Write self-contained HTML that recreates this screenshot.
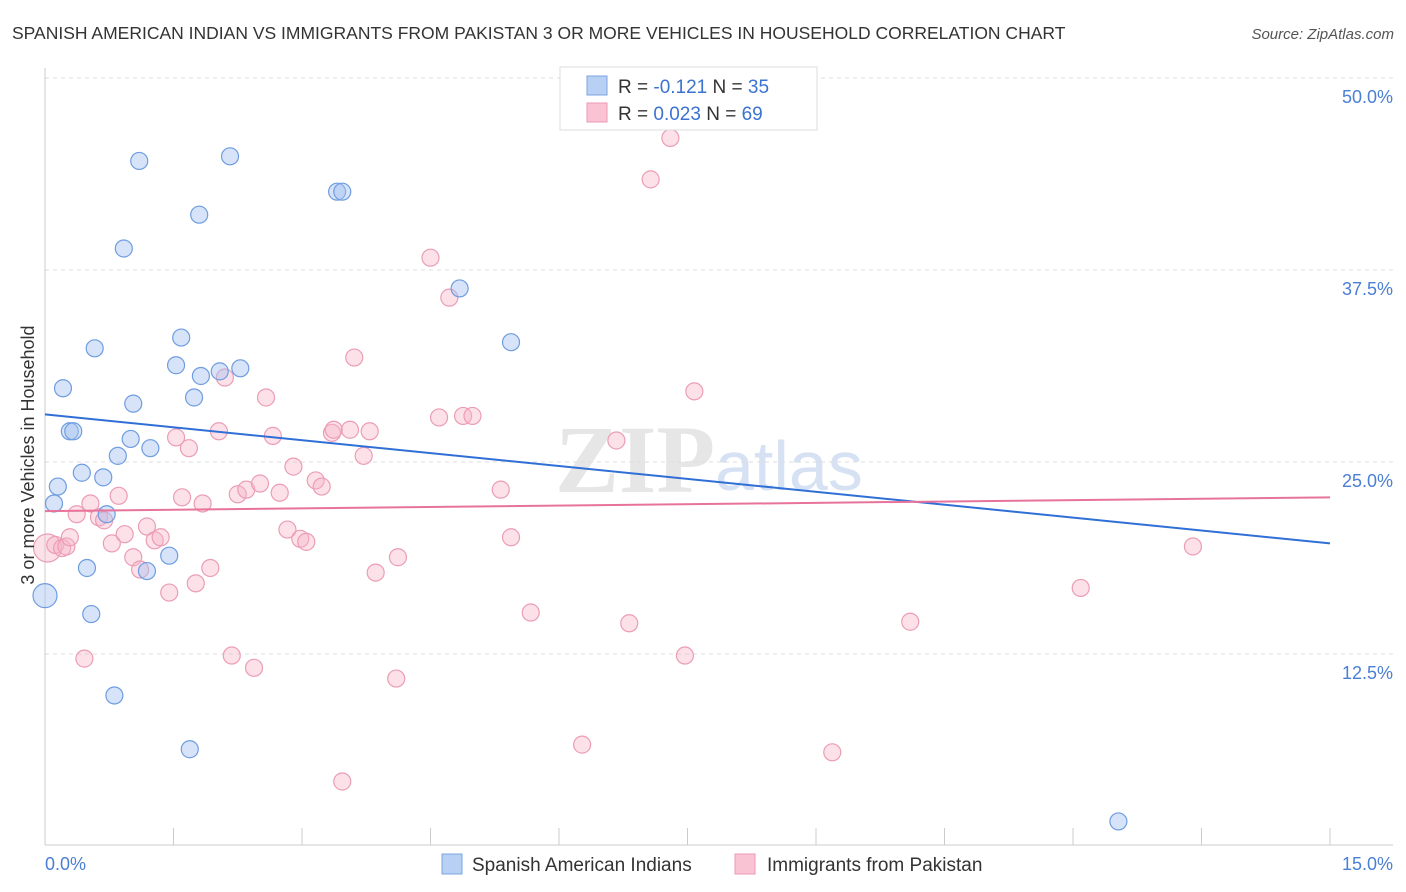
<!DOCTYPE html>
<html><head><meta charset="utf-8"><style>
body{margin:0;background:#fff;font-family:"Liberation Sans",sans-serif;}
svg{display:block}
</style></head><body>
<svg width="1406" height="892" viewBox="0 0 1406 892" xmlns="http://www.w3.org/2000/svg">
<text x="12" y="39" font-size="17.5" fill="#333">SPANISH AMERICAN INDIAN VS IMMIGRANTS FROM PAKISTAN 3 OR MORE VEHICLES IN HOUSEHOLD CORRELATION CHART</text>
<text x="1394" y="39" font-size="15" fill="#555" font-style="italic" text-anchor="end">Source: ZipAtlas.com</text>
<g>
<text x="555" y="492" font-family="Liberation Serif,serif" font-size="96" fill="#e6e6e6" font-weight="bold">ZIP</text>
<text x="715" y="490" font-size="70" fill="#d6e2f3">atlas</text>
</g>
<g id="grid"></g>
<g id="axes"></g>
<g id="pts"></g>
<g id="trends"></g>
<text transform="translate(34,455) rotate(-90)" font-size="18" fill="#333" text-anchor="middle">3 or more Vehicles in Household</text>
<g>
<rect x="560" y="67" width="257" height="63" fill="#fff" stroke="#ddd"/>
<rect x="587" y="76" width="20" height="19" fill="#b8d0f4" stroke="#7aa4e0"/>
<rect x="587" y="103" width="20" height="19" fill="#f9c3d3" stroke="#ea9ab4"/>
<text x="618" y="93" font-size="19" fill="#333">R = <tspan fill="#3a73d0">-0.121</tspan>   N = <tspan fill="#3a73d0">35</tspan></text>
<text x="618" y="120" font-size="19" fill="#333">R = <tspan fill="#3a73d0">0.023</tspan>    N = <tspan fill="#3a73d0">69</tspan></text>
</g>
<g>
<rect x="442" y="854" width="20" height="20" fill="#b8d0f4" stroke="#7aa4e0"/>
<text x="472" y="871" font-size="19" fill="#333">Spanish American Indians</text>
<rect x="735" y="854" width="20" height="20" fill="#f9c3d3" stroke="#ea9ab4"/>
<text x="767" y="871" font-size="19" fill="#333">Immigrants from Pakistan</text>
</g>
<script>
const yTicks=[12.5,25,37.5,50];
const yTickLabels=["12.5%","25.0%","37.5%","50.0%"];
const xTickCount=10;
const blueX=[0,0.105,0.15,0.21,0.29,0.33,0.43,0.49,0.54,0.58,0.68,0.72,0.81,0.85,0.92,1.0,1.03,1.10,1.19,1.23,1.45,1.53,1.59,1.69,1.74,1.80,1.82,2.04,2.16,2.28,3.41,3.47,4.84,5.44,12.53];
const blueY=[16.3,22.3,23.4,29.8,27.0,27.0,24.3,18.1,15.1,32.4,24.0,21.6,9.8,25.4,38.9,26.5,28.8,44.6,17.9,25.9,18.9,31.3,33.1,6.3,29.2,41.1,30.6,30.9,44.9,31.1,42.6,42.6,36.3,32.8,1.6];
const pinkX=[0.03,0.12,0.20,0.25,0.29,0.37,0.46,0.53,0.63,0.69,0.78,0.86,0.93,1.03,1.11,1.19,1.28,1.35,1.45,1.53,1.60,1.68,1.76,1.84,1.93,2.03,2.10,2.18,2.25,2.35,2.44,2.51,2.58,2.66,2.74,2.83,2.90,2.98,3.05,3.16,3.23,3.35,3.37,3.47,3.56,3.61,3.72,3.79,3.86,4.10,4.12,4.50,4.60,4.72,4.88,4.99,5.32,5.44,5.67,6.27,6.67,6.82,7.07,7.30,7.47,7.58,9.19,10.10,12.09,13.40];
const pinkY=[19.4,19.6,19.4,19.5,20.1,21.6,12.2,22.3,21.4,21.2,19.7,22.8,20.3,18.8,18.0,20.8,19.9,20.1,16.5,26.6,22.7,25.9,17.1,22.3,18.1,27.0,30.5,12.4,22.9,23.2,11.6,23.6,29.2,26.7,23.0,20.6,24.7,20.0,19.8,23.8,23.4,26.9,27.1,4.2,27.1,31.8,25.4,27.0,17.8,10.9,18.8,38.3,27.9,35.7,28.0,28.0,23.2,20.1,15.2,6.6,26.4,14.5,43.4,46.1,12.4,29.6,6.1,14.6,16.8,19.5];
const blueTrend=[28.1,19.7];
const pinkTrend=[21.8,22.7];
const NS="http://www.w3.org/2000/svg";
const X0=45,X1=1330,Y0=846;
function xs(v){return X0+v/15*(X1-X0);}
function ys(v){return Y0-v/12.5*192;}
function mk(t,a,p){const e=document.createElementNS(NS,t);for(const k in a)e.setAttribute(k,a[k]);p.appendChild(e);return e;}
const grid=document.getElementById('grid'),axes=document.getElementById('axes');
yTicks.forEach((t,i)=>{
  const l=mk('line',{x1:45,x2:1393,y1:ys(t),y2:ys(t),stroke:'#ddd','stroke-dasharray':'4,4'},grid);
  
  
  const tx=mk('text',{x:1393,y:ys(t)+25,'font-size':18,fill:'#4a7fd4','text-anchor':'end'},axes);
  tx.textContent=yTickLabels[i];
  
  
});
mk('line',{x1:45,x2:45,y1:68,y2:845,stroke:'#ccc'},axes);
mk('line',{x1:45,x2:1393,y1:845,y2:845,stroke:'#ccc'},axes);
for(let i=0;i<=xTickCount;i++){
  const x=xs(i*15/xTickCount);
  const t=mk('line',{x1:x,x2:x,y1:828,y2:845,stroke:'#ccc'},axes);
  
  
}
const xl0=mk('text',{x:45,y:870,'font-size':18,fill:'#4a7fd4'},axes);xl0.textContent='0.0%';


const xl1=mk('text',{x:1393,y:870,'font-size':18,fill:'#4a7fd4','text-anchor':'end'},axes);xl1.textContent='15.0%';


const pts=document.getElementById('pts');
pinkX.forEach((x,i)=>{
  const c=mk('circle',{cx:xs(x),cy:ys(pinkY[i]),r:i===0?14:8.5,fill:'rgba(248,180,200,0.4)',stroke:'#eb9db6','stroke-width':1.2},pts);
  
  
});
blueX.forEach((x,i)=>{
  const c=mk('circle',{cx:xs(x),cy:ys(blueY[i]),r:i===0?12:8.5,fill:'rgba(164,194,240,0.45)',stroke:'#6f9de0','stroke-width':1.2},pts);
  
  
});
const tr=document.getElementById('trends');
const bt=mk('line',{x1:xs(0),x2:xs(15),y1:ys(blueTrend[0]),y2:ys(blueTrend[1]),stroke:'#2f6fd6','stroke-width':2},tr);


const pt=mk('line',{x1:xs(0),x2:xs(15),y1:ys(pinkTrend[0]),y2:ys(pinkTrend[1]),stroke:'#e8739a','stroke-width':2},tr);


</script>
</svg>
</body></html>
